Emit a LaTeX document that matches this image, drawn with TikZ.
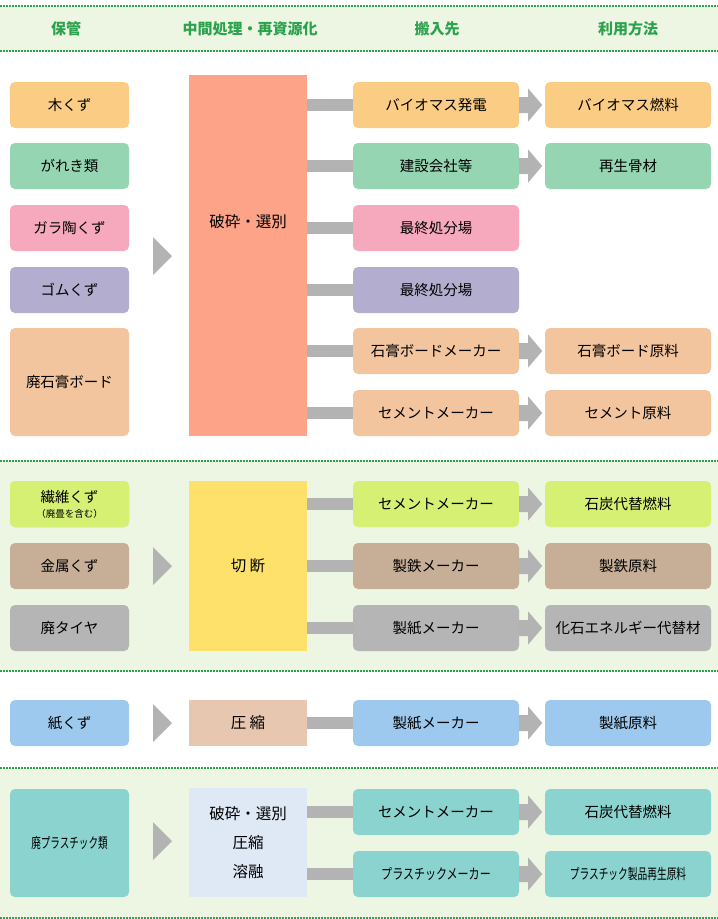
\documentclass[tikz,border=0pt]{standalone}
\usepackage{fontspec}
\setmainfont{Noto Sans CJK JP}
\usetikzlibrary{calc}
\definecolor{hdr}{HTML}{2BA24C}
\definecolor{hatch}{HTML}{EDF5E3}
\definecolor{conn}{HTML}{B3B3B3}
\definecolor{cOr}{HTML}{FBCD84}
\definecolor{cGr}{HTML}{96D5B2}
\definecolor{cPk}{HTML}{F6A9BC}
\definecolor{cPu}{HTML}{B3AED0}
\definecolor{cPe}{HTML}{F2C59E}
\definecolor{cSal}{HTML}{FDA387}
\definecolor{cYg}{HTML}{D6F073}
\definecolor{cBr}{HTML}{C7AE96}
\definecolor{cGy}{HTML}{B5B5B5}
\definecolor{cYe}{HTML}{FDE16B}
\definecolor{cBl}{HTML}{9CC9ED}
\definecolor{cTan}{HTML}{E7C7B0}
\definecolor{cTe}{HTML}{8AD3CF}
\definecolor{cLb}{HTML}{DFE9F5}
\newcommand\blockarrow[1]{\fill[conn] (#1.east) ++(0,-8) -- ++(9,0) -- ++(0,-8.5) -- ++(14,16.5) -- ++(-14,16.5) -- ++(0,-8.5) -- ++(-9,0) -- cycle;}
\newcommand\bigtri[1]{\fill[conn] (#1) ++(0,-19) -- ++(19,19) -- ++(-19,19) -- cycle;}
\begin{document}
\begin{tikzpicture}[x=1pt,y=-1pt,
  bx/.style={rounded corners=5pt, minimum height=46pt, inner sep=0pt, align=center, font=\fontsize{14.5}{17}\selectfont},
  lbox/.style={bx, minimum width=119pt},
  dbox/.style={bx, minimum width=166pt},
  mbox/.style={inner sep=0pt, minimum width=118pt, align=center, font=\fontsize{15.5}{18}\selectfont},
  hd/.style={text=hdr, font=\fontsize{15}{17}\selectfont\bfseries},
  bar/.style={draw=conn, line width=12pt},
  dots/.style={draw=hdr, line width=2pt, dash pattern=on 2pt off 1pt}]
\useasboundingbox (0,0) rectangle (718,919);
\fill[white] (0,0) rectangle (718,919);
% backgrounds
\fill[hatch] (0,6) rectangle (718,51);
\fill[hatch] (0,461) rectangle (718,671);
\fill[hatch] (0,768) rectangle (718,918);
\foreach \yy in {6,51,461,671,768,918} \draw[dots] (0,\yy) -- (718,\yy);
% header
\node[hd] (h1) at (66,29) {保管};
\node[hd] (h2) at (250,29) {中間処理・再資源化};
\node[hd] (h3) at (437,29) {搬入先};
\node[hd] (h4) at (628,29) {利用方法};
% section 1
\node[lbox, fill=cOr] (s1) at (69.5,105) {木くず};
\node[lbox, fill=cGr] (s2) at (69.5,166) {がれき類};
\node[lbox, fill=cPk] (s3) at (69.5,228) {ガラ陶くず};
\node[lbox, fill=cPu] (s4) at (69.5,290) {ゴムくず};
\node[lbox, fill=cPe, minimum height=108pt] (s5) at (69.5,382) {廃石膏ボード};
\coordinate (t1) at (153,256); \bigtri{t1}
\node[mbox, fill=cSal, minimum height=361pt] (m1) at (248,255.5) {};
\node[mbox] (m1t) at (248,222) {破砕・選別};
\node[dbox, fill=cOr] (d1) at (436,105) {バイオマス発電};
\node[dbox, fill=cGr] (d2) at (436,166) {建設会社等};
\node[dbox, fill=cPk] (d3) at (436,228) {最終処分場};
\node[dbox, fill=cPu] (d4) at (436,290) {最終処分場};
\node[dbox, fill=cPe] (d5) at (436,351) {石膏ボードメーカー};
\node[dbox, fill=cPe] (d6) at (436,413) {セメントメーカー};
\node[dbox, fill=cOr] (u1) at (628,105) {バイオマス燃料};
\node[dbox, fill=cGr] (u2) at (628,166) {再生骨材};
\node[dbox, fill=cPe] (u5) at (628,351) {石膏ボード原料};
\node[dbox, fill=cPe] (u6) at (628,413) {セメント原料};
\foreach \d in {d1,d2,d3,d4,d5,d6} \draw[bar] (m1.east |- \d.west) -- (\d.west);
\foreach \d in {d1,d2,d5,d6} \blockarrow{\d}
% section 2
\node[lbox, fill=cYg] (s6) at (69.5,504) {繊維くず\\[-2pt]{\fontsize{9.5}{10}\selectfont （廃畳を含む）}};
\node[lbox, fill=cBr] (s7) at (69.5,566) {金属くず};
\node[lbox, fill=cGy] (s8) at (69.5,628) {廃タイヤ};
\coordinate (t2) at (153,566); \bigtri{t2}
\node[mbox, fill=cYe, minimum height=170pt] (m2) at (248,566) {切 断};
\node[dbox, fill=cYg] (d7) at (436,504) {セメントメーカー};
\node[dbox, fill=cBr] (d8) at (436,566) {製鉄メーカー};
\node[dbox, fill=cGy] (d9) at (436,628) {製紙メーカー};
\node[dbox, fill=cYg] (u7) at (628,504) {石炭代替燃料};
\node[dbox, fill=cBr] (u8) at (628,566) {製鉄原料};
\node[dbox, fill=cGy] (u9) at (628,628) {化石エネルギー代替材};
\foreach \d in {d7,d8,d9} {\draw[bar] (m2.east |- \d.west) -- (\d.west); \blockarrow{\d}}
% section 3
\node[lbox, fill=cBl] (s9) at (69.5,723) {紙くず};
\coordinate (t3) at (153,723); \bigtri{t3}
\node[mbox, fill=cTan, minimum height=46pt] (m3) at (248,723) {圧 縮};
\node[dbox, fill=cBl] (d10) at (436,723) {製紙メーカー};
\node[dbox, fill=cBl] (u10) at (628,723) {製紙原料};
\draw[bar] (m3.east) -- (d10.west); \blockarrow{d10}
% section 4
\node[lbox, fill=cTe, minimum height=108pt] (s10) at (69.5,843) {\scalebox{0.66}[1]{廃プラスチック類}};
\coordinate (t4) at (153,841); \bigtri{t4}
\node[mbox, fill=cLb, minimum height=109pt, font=\fontsize{15.5}{29}\selectfont] (m4) at (248,842.5) {破砕・選別\\圧縮\\溶融};
\node[dbox, fill=cTe] (d11) at (436,812) {セメントメーカー};
\node[dbox, fill=cTe] (d12) at (436,874) {\scalebox{0.76}[1]{プラスチックメーカー}};
\node[dbox, fill=cTe] (u11) at (628,812) {石炭代替燃料};
\node[dbox, fill=cTe] (u12) at (628,874) {\scalebox{0.67}[1]{プラスチック製品再生原料}};
\foreach \d in {d11,d12} {\draw[bar] (m4.east |- \d.west) -- (\d.west); \blockarrow{\d}}
\end{tikzpicture}
\end{document}
